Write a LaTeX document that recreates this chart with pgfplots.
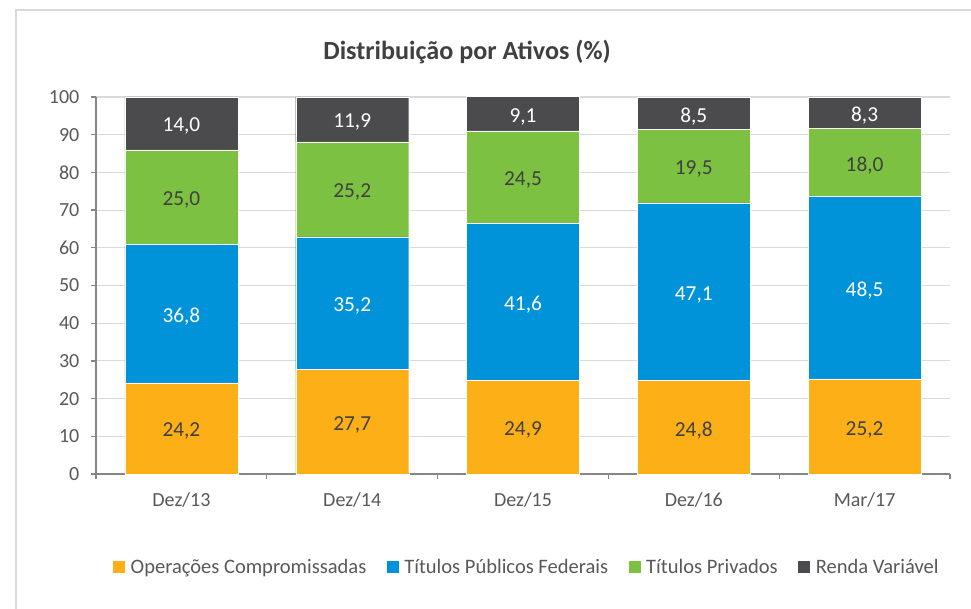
\documentclass[border=0pt]{standalone}
\usepackage{pgfplots}
\pgfplotsset{compat=1.18}
\usepackage{pgfplotstable}
\usepackage{fontspec}
\setmainfont{Carlito}
\definecolor{cOrange}{HTML}{FCAF17}
\definecolor{cBlue}{HTML}{0093DA}
\definecolor{cGreen}{HTML}{7DC142}
\definecolor{cDark}{HTML}{4B4B4D}
\definecolor{txt}{HTML}{595959}
\definecolor{ttl}{HTML}{404040}
\definecolor{gridc}{HTML}{D9D9D9}
\definecolor{axc}{HTML}{868686}

% stacked values per period
\pgfplotstableread{
x  oper  tpf   priv  renda
0  24.2  36.8  25.0  14.0
1  27.7  35.2  25.2  11.9
2  24.9  41.6  24.5  9.1
3  24.8  47.1  19.5  8.5
4  25.2  48.5  18.0  8.3
}\dataT

% label positions (segment midpoints)
\pgfplotstableread{
x  y      lab
0  12.10  24,2
1  13.85  27,7
2  12.45  24,9
3  12.40  24,8
4  12.60  25,2
0  73.50  25,0
1  75.50  25,2
2  78.75  24,5
3  81.65  19,5
4  82.70  18,0
}\labDark
\pgfplotstableread{
x  y      lab
0  42.60  36,8
1  45.30  35,2
2  45.70  41,6
3  48.35  47,1
4  49.45  48,5
0  93.00  14,0
1  94.05  11,9
2  95.55  9,1
3  95.65  8,5
4  95.85  8,3
}\labLight

\begin{document}
\begin{tikzpicture}
\useasboundingbox (0pt,0pt) rectangle (728.25pt,456pt);
\fill[white] (0pt,0pt) rectangle (728.25pt,456pt);
\draw[gridc, line width=1.1pt] (12pt,-8pt) -- (12pt,448.5pt) -- (745pt,448.5pt);

\node[font=\fontsize{19.6}{22}\selectfont\bfseries, text=ttl] at (350.25pt,417pt) {Distribuição por Ativos (\%)};

\begin{axis}[
    at={(72pt,100.5pt)}, anchor=south west,
    scale only axis,
    width=640.5pt, height=282.75pt,
    ybar stacked, bar width=84.75pt,
    xmin=-0.5, xmax=4.5, ymin=0, ymax=100,
    ytick={0,10,...,100},
    xtick={-0.5,0.5,...,4.5}, xticklabels={},
    extra x ticks={0,1,2,3,4},
    extra x tick labels={Dez/13,Dez/14,Dez/15,Dez/16,Mar/17},
    extra x tick style={major tick length=0pt},
    axis x line*=bottom, axis y line*=left,
    axis line style={axc, line width=1pt},
    tick style={axc, line width=1pt},
    tick align=outside, major tick length=4pt,
    ymajorgrids, grid style={gridc, line width=0.8pt},
    /pgf/number format/assume math mode=true,
    ticklabel style={text=txt, font=\fontsize{15}{18}\selectfont},
    xticklabel style={yshift=-10.5pt},
    yticklabel style={xshift=-5pt},
    legend columns=4,
    legend style={at={(0.505,-0.247)}, anchor=center, draw=none, fill=none,
        font=\fontsize{15.4}{18}\selectfont, text=txt,
        /tikz/every odd column/.append style={column sep=2pt},
        /tikz/every even column/.append style={column sep=13.5pt}},
    legend image code/.code={\fill[#1,draw=none] (0pt,-4.5pt) rectangle (9pt,4.5pt);},
]
\addplot[fill=cOrange, draw=white, line width=0.3pt] table[x=x, y=oper] {\dataT};
\addplot[fill=cBlue, draw=white, line width=0.3pt] table[x=x, y=tpf] {\dataT};
\addplot[fill=cGreen, draw=white, line width=0.3pt] table[x=x, y=priv] {\dataT};
\addplot[fill=cDark, draw=white, line width=0.3pt] table[x=x, y=renda] {\dataT};
\legend{Operações Compromissadas, Títulos Públicos Federais, Títulos Privados, Renda Variável}
\end{axis}

\begin{axis}[
    at={(72pt,100.5pt)}, anchor=south west,
    scale only axis,
    width=640.5pt, height=282.75pt,
    xmin=-0.5, xmax=4.5, ymin=0, ymax=100,
    hide axis,
    nodes near coords align=center,
]
\addplot[draw=none, nodes near coords, point meta=explicit symbolic,
    every node near coord/.append style={anchor=center, yshift=-2.25pt, text=ttl, font=\fontsize{16}{18}\selectfont}]
    table[x=x, y=y, meta=lab] {\labDark};
\addplot[draw=none, nodes near coords, point meta=explicit symbolic,
    every node near coord/.append style={anchor=center, yshift=-2.25pt, text=white, font=\fontsize{16}{18}\selectfont}]
    table[x=x, y=y, meta=lab] {\labLight};
\end{axis}
\end{tikzpicture}
\end{document}
